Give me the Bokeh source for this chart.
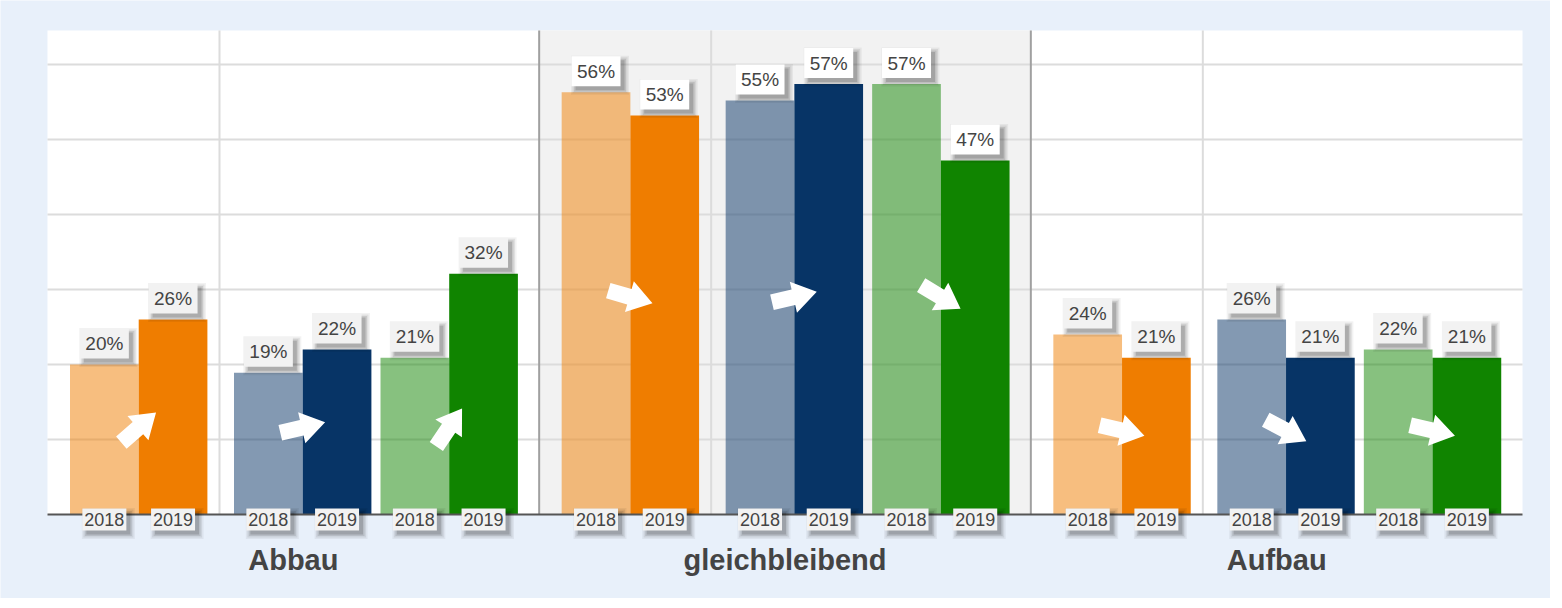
import math
from bokeh.plotting import figure
from bokeh.models import Range1d, ColumnDataSource
from bokeh.core.properties import value
from bokeh.embed import file_html
from bokeh.resources import INLINE

# ---------------- data ----------------
groups = ["Abbau", "gleichbleibend", "Aufbau"]
year_labels = ["2018", "2019"]
abbau_2018 = [20.0, 18.9, 20.9]
abbau_2019 = [26.0, 22.0, 32.1]
gleich_2018 = [56.3, 55.2, 57.4]
gleich_2019 = [53.2, 57.4, 47.2]
aufbau_2018 = [24.0, 26.0, 22.0]
aufbau_2019 = [20.9, 20.9, 20.9]
series_colors = ["#EF7D00", "#073466", "#108400"]

values_2018 = [abbau_2018, gleich_2018, aufbau_2018]
values_2019 = [abbau_2019, gleich_2019, aufbau_2019]

# ---------------- layout (pixels) ----------------
FW, FH = 1550, 598
PL, PR, PT, PB = 47, 28, 30, 84
XPX = (FW - PL - PR) / 3.0          # px per group unit
YPX = 7.5                            # px per percent
YTOP = (FH - PT - PB) / YPX
pair_start_px = [22.5, 186.5, 333.0]
bar_w_px = 68.7
vgrid_px = 172.0
arrow_levels = [11.6, 29.0, 11.2]
arrow_angles = [[41, 13, 56], [-16, 13, -31], [-13, -28, -13]]

FONT = value("Liberation Sans")
TXT = "#444444"

p = figure(width=FW, height=FH, output_backend="svg", toolbar_location=None,
           x_range=Range1d(-PL / XPX, 3 + PR / XPX),
           y_range=Range1d(-PB / YPX, (FH - PB) / YPX),
           x_axis_location=None, y_axis_location=None,
           min_border=0, min_border_left=0, min_border_right=0,
           min_border_top=0, min_border_bottom=0)
p.background_fill_color = "#e8f0fa"
p.border_fill_color = "#e8f0fa"
p.outline_line_color = None
p.grid.visible = False

# plot area backgrounds
p.quad(left=[0], right=[3], bottom=[0], top=[YTOP], fill_color="white", line_color=None)
p.quad(left=[1], right=[2], bottom=[0], top=[YTOP], fill_color="#f2f2f2", line_color=None)

# horizontal grid
gy = [10, 20, 30, 40, 50, 60]
p.segment(x0=[0] * len(gy), x1=[3] * len(gy), y0=gy, y1=gy, line_color="#dcdcdc", line_width=2)
# vertical grid
vx = [g + vgrid_px / XPX for g in range(3)]
p.segment(x0=vx, x1=vx, y0=[0] * 3, y1=[YTOP] * 3, line_color="#dcdcdc", line_width=2)
# group separators
p.segment(x0=[1, 2], x1=[1, 2], y0=[0, 0], y1=[YTOP, YTOP], line_color="#a0a0a0", line_width=2)

# bars
bw = bar_w_px / XPX
bx, btop, bcol, balpha = [], [], [], []
lab_x, lab_y, lab_t, lab_fill = [], [], [], []
yr_x, yr_t = [], []
arr_xs, arr_ys = [], []

# arrow shape in px, pointing +x, centred
arrow_shape = [(-23, -8), (-1, -8), (-1, -16), (23, 0), (-1, 16), (-1, 8), (-23, 8)]

for gi in range(3):
    for si in range(3):
        start = gi + pair_start_px[si] / XPX
        vals = [values_2018[gi][si], values_2019[gi][si]]
        for yi in range(2):
            cx = start + bw * (yi + 0.5)
            bx.append(cx)
            btop.append(vals[yi])
            bcol.append(series_colors[si])
            balpha.append(0.5 if yi == 0 else 1.0)
            lab_x.append(cx)
            lab_y.append(vals[yi] + 21.0 / YPX)
            lab_t.append(f"{round(vals[yi])}%")
            lab_fill.append("#ffffff" if gi == 1 else "#f2f2f2")
            yr_x.append(cx)
            yr_t.append(year_labels[yi])
        # arrow
        ax = start + bw
        ay = arrow_levels[gi]
        th = math.radians(arrow_angles[gi][si])
        xs, ys = [], []
        for (px, py) in arrow_shape:
            rx = px * math.cos(th) - py * math.sin(th)
            ry = px * math.sin(th) + py * math.cos(th)
            xs.append(ax + rx / XPX)
            ys.append(ay + ry / YPX)
        arr_xs.append(xs)
        arr_ys.append(ys)

bars = ColumnDataSource(dict(x=bx, top=btop, color=bcol, alpha=balpha))
p.vbar(x="x", top="top", bottom=0, width=bw, fill_color="color", fill_alpha="alpha",
       line_color=None, source=bars)

p.patches(arr_xs, arr_ys, fill_color="white", line_color=None)

# baseline
p.segment(x0=[0], x1=[3], y0=[0], y1=[0], line_color="#555555", line_width=2)

# shadows
def shadow(xs, ys, w, h):
    for grow, alpha in [(9, 0.05), (6, 0.07), (3, 0.10), (0, 0.14)]:
        p.rect(x=[x + 4 / XPX for x in xs], y=[y - 4 / YPX for y in ys],
               width=w + grow, height=h + grow, width_units="screen", height_units="screen",
               fill_color="#000000", fill_alpha=alpha, line_color=None)

yr_y = [-5.0 / YPX] * len(yr_x)
shadow(lab_x, lab_y, 49, 30)
shadow(yr_x, yr_y, 44, 22)

labels = ColumnDataSource(dict(x=lab_x, y=lab_y, t=lab_t, fill=lab_fill))
p.rect(x="x", y="y", width=49, height=30, width_units="screen", height_units="screen",
       fill_color="fill", line_color=None, source=labels)
p.text(x="x", y="y", text="t", source=labels, text_align="center", text_baseline="middle",
       text_font=FONT, text_font_size="19px", text_color=TXT)

p.rect(x=yr_x, y=yr_y, width=44, height=22, width_units="screen", height_units="screen",
       fill_color="#f2f2f2", line_color=None)
p.text(x=yr_x, y=yr_y, text=yr_t, text_align="center", text_baseline="middle",
       text_font=FONT, text_font_size="18px", text_color=TXT)

# group labels
p.text(x=[g + 0.5 for g in range(3)], y=[-45.0 / YPX] * 3, text=groups,
       text_align="center", text_baseline="middle", text_font=FONT,
       text_font_size="29px", text_font_style="bold", text_color=TXT)

open("out.html", "w").write(file_html(p, INLINE))
